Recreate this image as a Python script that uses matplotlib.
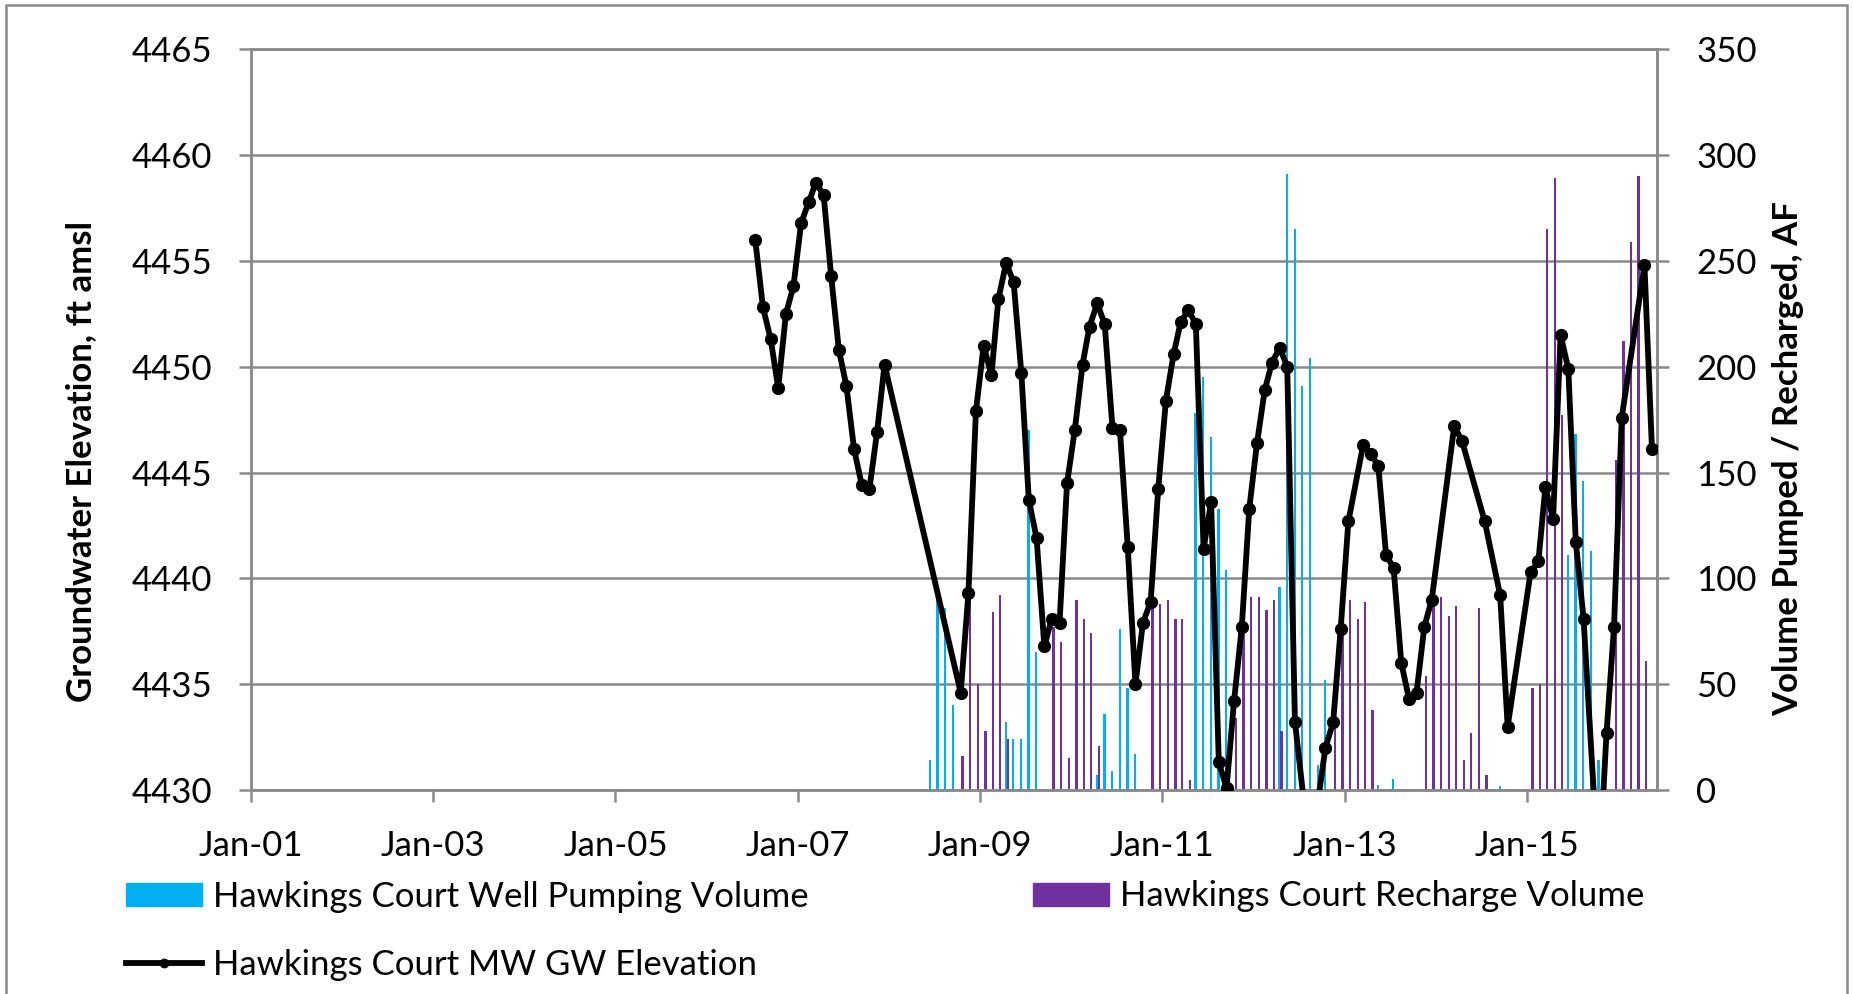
import datetime as dt
import matplotlib
matplotlib.use("Agg")
import matplotlib.pyplot as plt
import matplotlib.dates as mdates
from matplotlib.patches import Patch, Rectangle
from matplotlib.lines import Line2D

plt.rcParams['font.family'] = ['Lato', 'DejaVu Sans']

# monitoring well elevations (ft amsl), one reading per month
elev_months = [
    "2006-07", "2006-08", "2006-09", "2006-10", "2006-11", "2006-12",
    "2007-01", "2007-02", "2007-03", "2007-04", "2007-05", "2007-06",
    "2007-07", "2007-08", "2007-09", "2007-10", "2007-11", "2007-12",
    "2008-10", "2008-11", "2008-12",
    "2009-01", "2009-02", "2009-03", "2009-04", "2009-05", "2009-06",
    "2009-07", "2009-08", "2009-09", "2009-10", "2009-11", "2009-12",
    "2010-01", "2010-02", "2010-03", "2010-04", "2010-05", "2010-06",
    "2010-07", "2010-08", "2010-09", "2010-10", "2010-11", "2010-12",
    "2011-01", "2011-02", "2011-03", "2011-04", "2011-05", "2011-06",
    "2011-07", "2011-08", "2011-09", "2011-10", "2011-11", "2011-12",
    "2012-01", "2012-02", "2012-03", "2012-04", "2012-05", "2012-06",
    "2012-08", "2012-10", "2012-11", "2012-12",
    "2013-01", "2013-03", "2013-04", "2013-05", "2013-06", "2013-07",
    "2013-08", "2013-09", "2013-10", "2013-11", "2013-12",
    "2014-03", "2014-04", "2014-07", "2014-09", "2014-10",
    "2015-01", "2015-02", "2015-03", "2015-04", "2015-05", "2015-06",
    "2015-07", "2015-08", "2015-10", "2015-11", "2015-12",
    "2016-01", "2016-04", "2016-05",
]
elev_ft = [
    4456.0, 4452.8, 4451.3, 4449.0, 4452.5, 4453.8,
    4456.8, 4457.8, 4458.7, 4458.1, 4454.3, 4450.8,
    4449.1, 4446.1, 4444.4, 4444.2, 4446.9, 4450.1,
    4434.6, 4439.3, 4447.9,
    4451.0, 4449.6, 4453.2, 4454.9, 4454.0, 4449.7,
    4443.7, 4441.9, 4436.8, 4438.1, 4437.9, 4444.5,
    4447.0, 4450.1, 4451.9, 4453.0, 4452.0, 4447.1,
    4447.0, 4441.5, 4435.0, 4437.9, 4438.9, 4444.2,
    4448.4, 4450.6, 4452.1, 4452.7, 4452.0, 4441.4,
    4443.6, 4431.3, 4430.1, 4434.2, 4437.7, 4443.3,
    4446.4, 4448.9, 4450.2, 4450.9, 4450.0, 4433.2,
    4426.8, 4432.0, 4433.2, 4437.6,
    4442.7, 4446.3, 4445.9, 4445.3, 4441.1, 4440.5,
    4436.0, 4434.3, 4434.6, 4437.7, 4439.0,
    4447.2, 4446.5, 4442.7, 4439.2, 4433.0,
    4440.3, 4440.8, 4444.3, 4442.8, 4451.5, 4449.9,
    4441.7, 4438.1, 4425.8, 4432.7, 4437.7,
    4447.6, 4454.8, 4446.1,
]

# well pumping volume (AF)
pump_months = [
    "2008-06", "2008-07", "2008-08", "2008-09",
    "2009-04", "2009-05", "2009-06", "2009-07", "2009-08",
    "2010-04", "2010-05", "2010-06", "2010-07", "2010-08", "2010-09",
    "2011-05", "2011-06", "2011-07", "2011-08", "2011-09",
    "2012-04", "2012-05", "2012-06", "2012-07", "2012-08", "2012-09", "2012-10",
    "2013-05", "2013-07", "2014-09",
    "2015-06", "2015-07", "2015-08", "2015-09", "2015-10",
]
pump_af = [
    14, 90, 86, 40,
    32, 24, 24, 170, 65,
    7, 36, 9, 76, 48, 17,
    178, 195, 167, 133, 104,
    96, 291, 265, 191, 204, 12, 52,
    2.5, 5, 2,
    111, 168, 146, 113, 14,
]

# recharge volume (AF)
recharge_months = [
    "2008-10", "2008-11", "2008-12",
    "2009-01", "2009-02", "2009-03", "2009-04",
    "2009-10", "2009-11", "2009-12",
    "2010-01", "2010-02", "2010-03", "2010-04",
    "2010-11", "2010-12",
    "2011-01", "2011-02", "2011-03", "2011-04",
    "2011-10", "2011-11", "2011-12",
    "2012-01", "2012-02", "2012-03", "2012-04",
    "2012-11", "2012-12",
    "2013-01", "2013-02", "2013-03", "2013-04",
    "2013-11", "2013-12",
    "2014-01", "2014-02", "2014-03", "2014-04", "2014-05", "2014-06", "2014-07",
    "2015-01", "2015-02", "2015-03", "2015-04", "2015-05",
    "2015-12",
    "2016-01", "2016-02", "2016-03", "2016-04",
]
recharge_af = [
    16, 90, 50,
    28, 84, 92, 24,
    77, 70, 15,
    90, 81, 74, 21,
    86, 88,
    90, 81, 81, 4.5,
    34, 78, 91,
    91, 85, 90, 28,
    33, 85,
    90, 81, 89, 38,
    54, 90,
    91, 82, 87, 14, 27, 86, 7,
    48, 50, 265, 289, 177,
    156,
    212, 259, 290, 61,
]

tick_years = list(range(2001, 2016, 2))


def month_date(m, day):
    y, mo = map(int, m.split("-"))
    return dt.datetime(y, mo, day)


W, H = 1853, 994
fig = plt.figure(figsize=(W / 100, H / 100), dpi=100)
ax = fig.add_axes([250.7 / W, 1 - 790 / H, 1406 / W, (790 - 49.3) / H])
ax2 = ax.twinx()

grey = "#8a8a8a"
cyan = "#00b0f0"
purple = "#7030a0"
fs = 25

# bars go on the right axis, grid lives there too so it sits behind the bars
ax2.bar([month_date(m, 14) for m in pump_months], pump_af, width=9,
        color=cyan, zorder=2)
ax2.bar([month_date(m, 22) for m in recharge_months], recharge_af, width=9,
        color=purple, zorder=2)
ax2.set_ylim(0, 350)
ax2.set_yticks(range(0, 351, 50))
ax2.grid(axis="y", color=grey, lw=1.8, zorder=0)
ax2.set_axisbelow(True)

# elevation line on the left axis, drawn on top
ax.set_zorder(ax2.get_zorder() + 1)
ax.patch.set_visible(False)
ax.plot([month_date(m, 15) for m in elev_months], elev_ft, color="black",
        lw=4.2, marker="o", ms=8.5, zorder=3)
ax.set_ylim(4430, 4465)
ax.set_yticks(range(4430, 4466, 5))

ax.set_xlim(dt.datetime(2001, 1, 1), dt.datetime(2016, 6, 3))
ax.set_xticks([dt.datetime(y, 1, 1) for y in tick_years])
ax.xaxis.set_major_formatter(mdates.DateFormatter("%b-%y"))

for a in (ax, ax2):
    for s in a.spines.values():
        s.set_color(grey)
        s.set_linewidth(1.8)
ax.tick_params(axis="y", direction="out", length=8.6, width=1.8, color=grey,
               labelsize=fs, pad=19)
ax.tick_params(axis="x", direction="out", length=8.6, width=1.8, color=grey,
               labelsize=fs, pad=20)
ax2.tick_params(axis="y", direction="out", length=8.6, width=1.8, color=grey,
                labelsize=fs, pad=20)

ax.set_ylabel("Groundwater Elevation, ft amsl", fontsize=fs, fontweight="bold")
ax.yaxis.set_label_coords(-0.1093, 0.443)
ax2.set_ylabel("Volume Pumped / Recharged, AF", fontsize=fs, fontweight="bold")
ax2.yaxis.set_label_coords(1.0824, 0.448)

pump_h = Patch(color=cyan, label="Hawkings Court Well Pumping Volume")
rech_h = Patch(color=purple, label="Hawkings Court Recharge Volume")
elev_h = Line2D([], [], color="black", lw=4.2, marker="o", ms=6,
                label="Hawkings Court MW GW Elevation")
leg_kw = dict(frameon=False, fontsize=fs, handlelength=2.2, handleheight=0.66,
              handletextpad=0.3, borderpad=0, borderaxespad=0, labelspacing=1.05)
fig.legend(handles=[pump_h, elev_h], loc="center left",
           bbox_to_anchor=(126 / W, 1 - 931 / H), **leg_kw)
fig.legend(handles=[rech_h], loc="center left",
           bbox_to_anchor=(1033 / W, 1 - 896.5 / H), **leg_kw)

# chart area border
fig.patches.append(Rectangle((6 / W, -0.1), (1847 - 6) / W, 1.1 - 5 / H,
                             transform=fig.transFigure, fill=False,
                             ec=grey, lw=1.8))

fig.savefig("out.png", dpi=100)
